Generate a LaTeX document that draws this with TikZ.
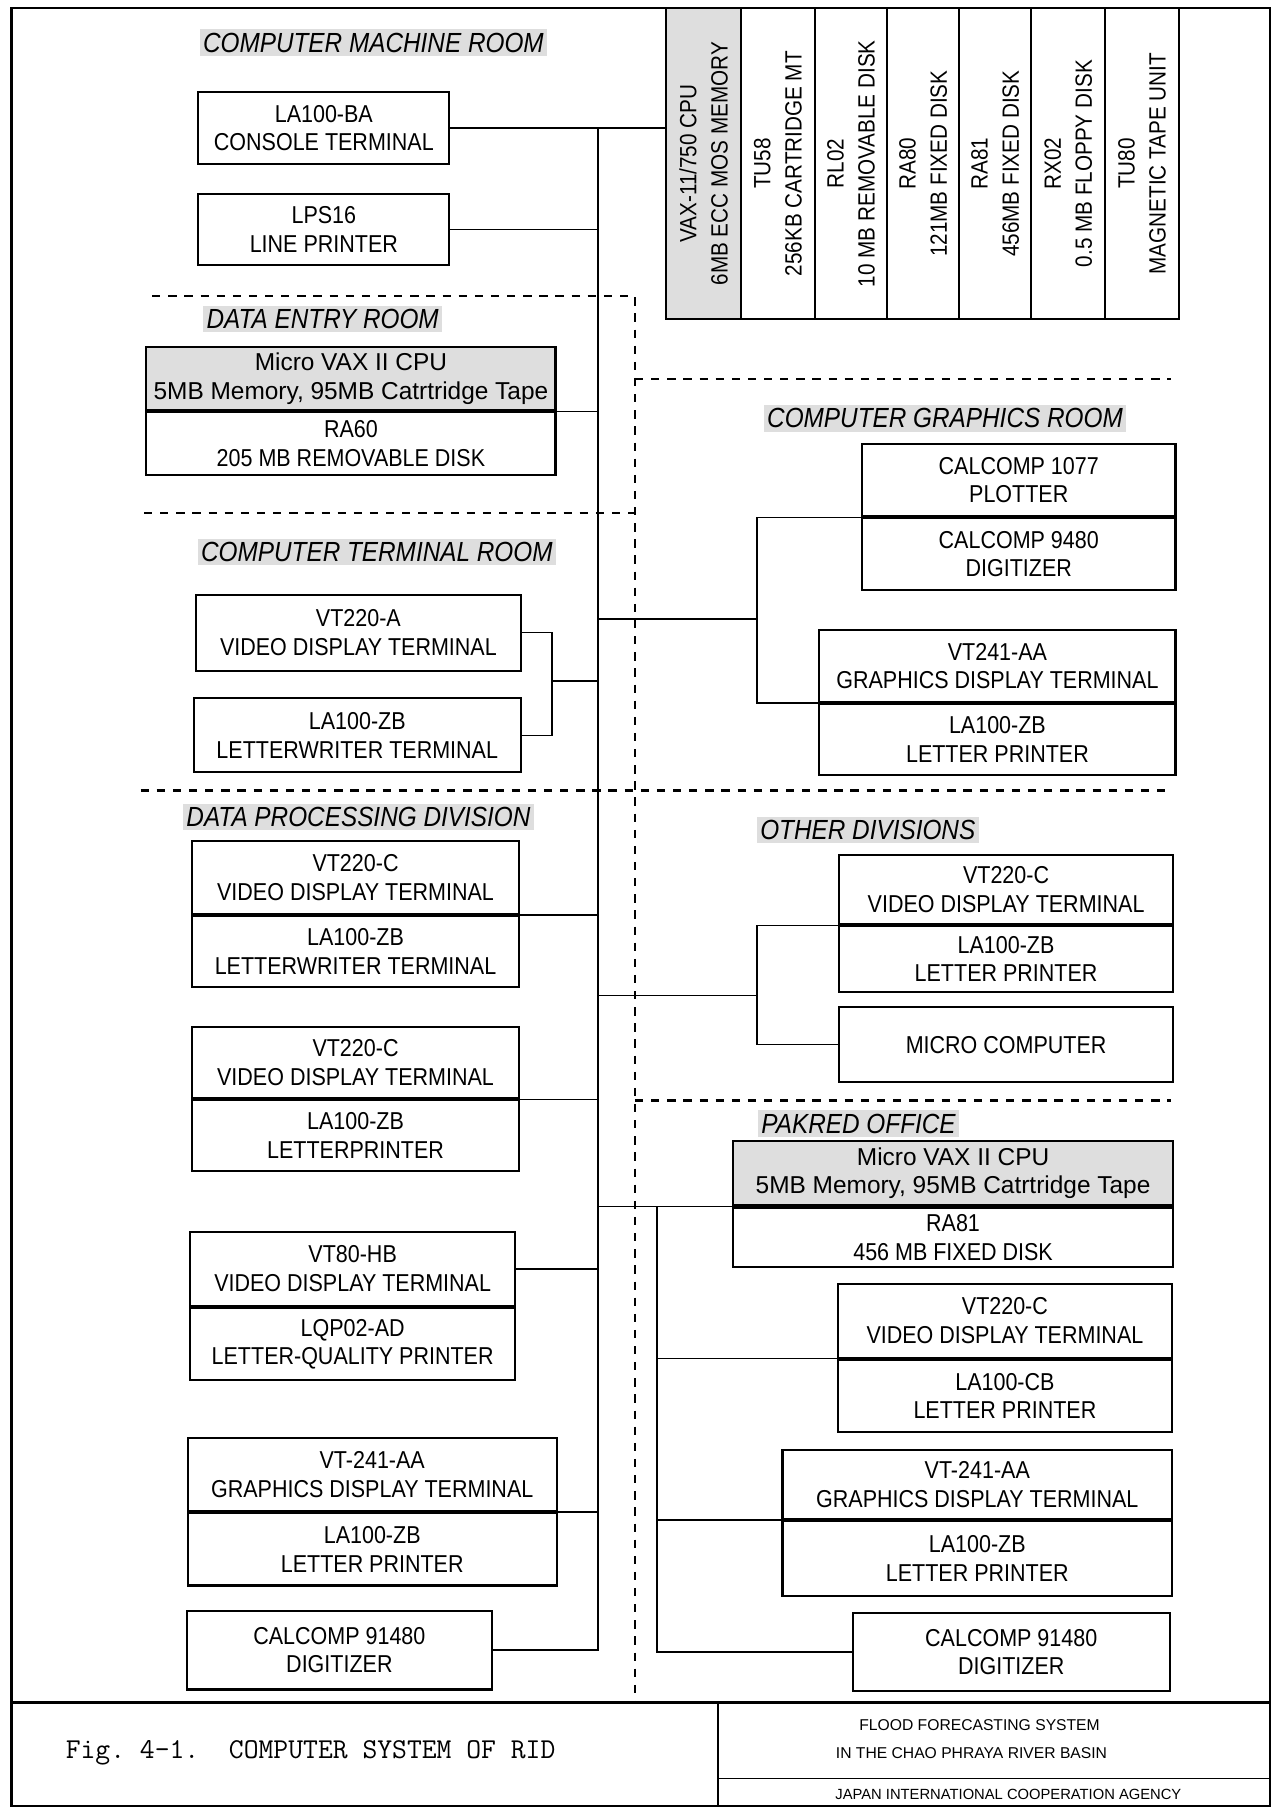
\documentclass[tikz,border=0pt]{standalone}
\usepackage{fontspec}
\setmainfont{Liberation Sans}
\newfontfamily\narrowsans[FakeStretch=0.88]{Liberation Sans}
\usetikzlibrary{positioning}
\newcommand{\boxfont}{\narrowsans\fontsize{10.6}{12.4}\selectfont}
\newcommand{\cpufont}{\fontsize{10.6}{12.4}\selectfont}
\newcommand{\colfont}{\narrowsans\fontsize{10.2}{13.5}\selectfont}
\newcommand{\roomfont}{\narrowsans\itshape\fontsize{12}{14}\selectfont}
\newcommand{\footfont}{\fontsize{6.8}{8}\selectfont}

\begin{document}
\begin{tikzpicture}[x=0.5pt, y=-0.5pt,
  devbox/.style={draw, line width=0.9pt, inner sep=0pt, align=center, font=\boxfont},
  cpubox/.style={devbox, fill=black!13, font=\cpufont},
  devcol/.style={draw, line width=0.9pt, inner sep=0pt, align=center, rotate=90, minimum width=135pt, font=\colfont},
  roomtag/.style={fill=black!13, inner sep=1.5pt, font=\roomfont},
  wire/.style={line width=0.65pt},
  buswire/.style={line width=0.9pt},
  roomline/.style={line width=1.1pt, dash pattern=on 3.6pt off 3.4pt}]
  \useasboundingbox (0,0) rectangle (1105,1568);
  % frame and title block
  \draw[line width=1pt] (10,7) rectangle (1102,1567);
  \draw[line width=1.2pt] (10,1477) -- (1102,1477);
  \draw[line width=0.8pt] (623,1477) -- (623,1567);
  \draw[line width=0.6pt] (623,1543) -- (1102,1543);
  \node[font=\ttfamily\fontsize{12.5}{14}\selectfont\frenchspacing, anchor=west] (figcap) at (50,1521) {Fig. 4-1.\ \ COMPUTER SYSTEM OF RID};
  \node[font=\footfont] (jica1) at (850,1497) {FLOOD FORECASTING SYSTEM};
  \node[font=\footfont] (jica2) at (843,1521) {IN THE CHAO PHRAYA RIVER BASIN};
  \node[font=\fontsize{6.4}{8}\selectfont] (jica3) at (875,1557) {JAPAN INTERNATIONAL COOPERATION AGENCY};
  % room borders
  \draw[roomline] (132,257) -- (551,257) -- (551,1477);
  \draw[roomline] (551,329) -- (1016,329);
  \draw[roomline] (125,445) -- (551,445);
  \draw[roomline] (122,686) -- (1016,686);
  \draw[roomline] (551,955) -- (1016,955);
  % COMPUTER MACHINE ROOM - top
  \node[roomtag] (machroom) at (324,37) {COMPUTER MACHINE ROOM};
  \node[devbox, minimum width=109pt, minimum height=31pt] (la100ba) at (281,111) {LA100-BA\\CONSOLE TERMINAL};
  \node[devbox, minimum width=109pt, minimum height=31pt] (lps16) at (281,199) {LPS16\\LINE PRINTER};
  \node[devcol, minimum height=32.5pt, fill=black!13] (vax) at (610.5,142) {VAX-11/750 CPU\\6MB ECC MOS MEMORY};
  \node[devcol, minimum height=32pt] (tu58) at (675,142) {TU58\\256KB CARTRIDGE MT};
  \node[devcol, minimum height=31.5pt] (rl02) at (738.5,142) {RL02\\10 MB REMOVABLE DISK};
  \node[devcol, minimum height=31pt] (ra80) at (801,142) {RA80\\121MB FIXED DISK};
  \node[devcol, minimum height=31.5pt] (ra81) at (863.5,142) {RA81\\456MB FIXED DISK};
  \node[devcol, minimum height=32pt] (rx02) at (927,142) {RX02\\0.5 MB FLOPPY DISK};
  \node[devcol, minimum height=32pt] (tu80) at (991,142) {TU80\\MAGNETIC TAPE UNIT};
  % DATA ENTRY ROOM
  \node[roomtag] (entryroom) at (280,277) {DATA ENTRY ROOM};
  \node[cpubox, minimum width=177.5pt, minimum height=27.5pt] (dentryA) at (304.5,328.5) {Micro VAX II CPU\\5MB Memory, 95MB Catrtridge Tape};
  \node[devbox, minimum width=177.5pt, minimum height=27pt, below=0pt of dentryA] (dentryB) {RA60\\205 MB REMOVABLE DISK};
  % COMPUTER TERMINAL ROOM
  \node[roomtag] (termroom) at (327,479) {COMPUTER TERMINAL ROOM};
  \node[devbox, minimum width=141pt, minimum height=33pt] (vt220a) at (311,549) {VT220-A\\VIDEO DISPLAY TERMINAL};
  \node[devbox, minimum width=142pt, minimum height=32pt] (la100zb) at (310,638) {LA100-ZB\\LETTERWRITER TERMINAL};
  % COMPUTER GRAPHICS ROOM
  \node[roomtag] (gfxroom) at (820,363) {COMPUTER GRAPHICS ROOM};
  \node[devbox, minimum width=136pt, minimum height=31.5pt] (calA) at (884,416.5) {CALCOMP 1077\\PLOTTER};
  \node[devbox, minimum width=136pt, minimum height=31pt, below=0pt of calA] (calB) {CALCOMP 9480\\DIGITIZER};
  \node[devbox, minimum width=154.5pt, minimum height=31pt] (gvtA) at (865.5,578) {VT241-AA\\GRAPHICS DISPLAY TERMINAL};
  \node[devbox, minimum width=154.5pt, minimum height=31pt, below=0pt of gvtA] (gvtB) {LA100-ZB\\LETTER PRINTER};
  % DATA PROCESSING DIVISION
  \node[roomtag] (dproom) at (311,709) {DATA PROCESSING DIVISION};
  \node[devbox, minimum width=141.5pt, minimum height=31.5pt] (dp1A) at (308.5,761.5) {VT220-C\\VIDEO DISPLAY TERMINAL};
  \node[devbox, minimum width=141.5pt, minimum height=31pt, below=0pt of dp1A] (dp1B) {LA100-ZB\\LETTERWRITER TERMINAL};
  \node[devbox, minimum width=141.5pt, minimum height=31pt] (dp2A) at (308.5,922) {VT220-C\\VIDEO DISPLAY TERMINAL};
  \node[devbox, minimum width=141.5pt, minimum height=30.5pt, below=0pt of dp2A] (dp2B) {LA100-ZB\\LETTERPRINTER};
  \node[devbox, minimum width=141pt, minimum height=32pt] (vt80A) at (306,1101) {VT80-HB\\VIDEO DISPLAY TERMINAL};
  \node[devbox, minimum width=141pt, minimum height=31.5pt, below=0pt of vt80A] (vt80B) {LQP02-AD\\LETTER-QUALITY PRINTER};
  \node[devbox, minimum width=160pt, minimum height=31.5pt] (dpvtA) at (323,1279.5) {VT-241-AA\\GRAPHICS DISPLAY TERMINAL};
  \node[devbox, minimum width=160pt, minimum height=31.5pt, below=0pt of dpvtA] (dpvtB) {LA100-ZB\\LETTER PRINTER};
  \node[devbox, minimum width=132.5pt, minimum height=34pt] (dpcal) at (294.5,1432) {CALCOMP 91480\\DIGITIZER};
  % OTHER DIVISIONS
  \node[roomtag] (otherroom) at (753,720) {OTHER DIVISIONS};
  \node[devbox, minimum width=145pt, minimum height=30pt] (odvtA) at (873,772) {VT220-C\\VIDEO DISPLAY TERMINAL};
  \node[devbox, minimum width=145pt, minimum height=28.5pt, below=0pt of odvtA] (odvtB) {LA100-ZB\\LETTER PRINTER};
  \node[devbox, minimum width=145pt, minimum height=32.5pt] (micro) at (873,906.5) {MICRO COMPUTER};
  % PAKRED OFFICE
  \node[roomtag] (pakroom) at (745,975) {PAKRED OFFICE};
  \node[cpubox, minimum width=191pt, minimum height=28pt] (pvaxA) at (827,1018) {Micro VAX II CPU\\5MB Memory, 95MB Catrtridge Tape};
  \node[devbox, minimum width=191pt, minimum height=26pt, below=0pt of pvaxA] (pvaxB) {RA81\\456 MB FIXED DISK};
  \node[devbox, minimum width=145pt, minimum height=32pt] (pvtA) at (872,1146) {VT220-C\\VIDEO DISPLAY TERMINAL};
  \node[devbox, minimum width=145pt, minimum height=31.5pt, below=0pt of pvtA] (pvtB) {LA100-CB\\LETTER PRINTER};
  \node[devbox, minimum width=169pt, minimum height=30pt] (pgvA) at (848,1288) {VT-241-AA\\GRAPHICS DISPLAY TERMINAL};
  \node[devbox, minimum width=169pt, minimum height=32.5pt, below=0pt of pgvA] (pgvB) {LA100-ZB\\LETTER PRINTER};
  \node[devbox, minimum width=137.5pt, minimum height=33.5pt] (pcal) at (877.5,1433.5) {CALCOMP 91480\\DIGITIZER};
  % main bus
  \coordinate (busx) at (519,0);
  \coordinate (tbrk) at (479,0);
  \coordinate (tjoin) at (479,591);
  \coordinate (gjoin) at (657,537);
  \coordinate (ojoin) at (657,864);
  \coordinate (pbusx) at (570,0);
  \draw[wire] (la100ba.east) -- (la100ba.east -| vax.north);
  \draw[buswire] (la100ba.east -| busx) -- (dpcal.east -| busx) -- (dpcal.east);
  \draw[wire] (lps16.east) -- (lps16.east -| busx);
  \draw[wire] (dentryA.south east) -- (dentryA.south east -| busx);
  \draw[wire] (vt220a.east) -- (vt220a.east -| tbrk) -- (la100zb.east -| tbrk) -- (la100zb.east);
  \draw[wire] (tjoin) -- (tjoin -| busx);
  \draw[wire] (gjoin -| busx) -- (gjoin);
  \draw[wire] (calA.south west) -| (gjoin) |- (gvtA.south west);
  \draw[wire] (dp1A.south east) -- (dp1A.south east -| busx);
  \draw[wire] (dp2A.south east) -- (dp2A.south east -| busx);
  \draw[wire] (ojoin -| busx) -- (ojoin);
  \draw[wire] (odvtA.south west) -| (ojoin) |- (micro.west);
  \draw[wire] (vt80A.east) -- (vt80A.east -| busx);
  \draw[wire] (dpvtA.south east) -- (dpvtA.south east -| busx);
  % PAKRED link
  \draw[wire] (pvaxA.south west -| busx) -- (pvaxA.south west);
  \draw[buswire] (pvaxA.south west -| pbusx) -- (pcal.west -| pbusx) -- (pcal.west);
  \draw[wire] (pvtA.south west -| pbusx) -- (pvtA.south west);
  \draw[wire] (pgvA.south west -| pbusx) -- (pgvA.south west);
\end{tikzpicture}
\end{document}
